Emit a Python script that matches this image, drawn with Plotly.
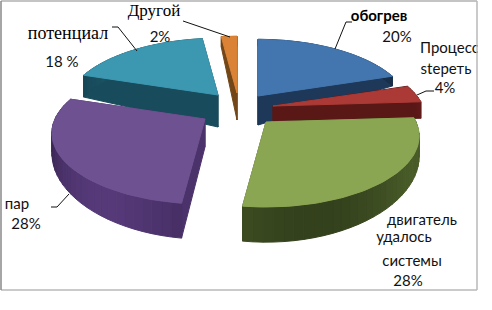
import numpy as np
import plotly.graph_objects as go

categories = ["обогрев", "Процесс стереть", "двигатель удалось системы", "пар", "потенциал", "Другой"]
shares = [20, 4, 28, 28, 18, 2]

top_colors = ["#4375AE", "#AB3A36", "#8BA653", "#6D5191", "#3C97B1", "#DA8235"]
side_colors = ["#1F3B5E", "#5E1A18", "#445626", "#4F3570", "#1A4F60", "#7A4A1A"]
apex_xy = [(258, 96), (273, 106), (266, 122), (205, 119), (218, 95), (237, 93)]
apex_depth = [29, 15, 30, 28, 32, 27]
rim_factor = [0.65, 0.95, 1.0, 1.0, 1.45, 1.0]
draw_order = [5, 4, 0, 1, 3, 2]

RADIUS = 150
TILT = 68
PERSPECTIVE = 0.2
RIM_DEPTH = 18


def project(theta, apex):
    u = np.sin(theta)
    v = -np.cos(theta)
    s = 1 / (1 - PERSPECTIVE * v)
    return apex[0] + RADIUS * u * s, apex[1] + TILT * v * s, s


def shade(hex_color, f):
    r, g, b = (int(hex_color[i:i + 2], 16) for i in (1, 3, 5))
    return f"rgb({min(255, int(r * f))},{min(255, int(g * f))},{min(255, int(b * f))})"


def poly(xs, ys, color):
    return go.Scatter(x=list(xs), y=list(ys), mode="lines", fill="toself", fillcolor=color,
                      line=dict(color=color, width=1), hoverinfo="skip", showlegend=False)


edges = np.cumsum([0] + shares) / sum(shares) * 2 * np.pi
traces = []
for i in draw_order:
    a0, a1 = edges[i], edges[i + 1]
    apex = apex_xy[i]
    th = np.linspace(a0, a1, max(8, int(shares[i] * 1.2)))
    X, Y, S = project(th, apex)
    D = RIM_DEPTH * rim_factor[i] * S ** 3
    ax, ay = apex
    ad = apex_depth[i]
    # two cut faces
    for k in (0, -1):
        traces.append(poly([ax, X[k], X[k], ax, ax], [ay, Y[k], Y[k] + D[k], ay + ad, ay],
                           shade(side_colors[i], 0.95)))
    # rim with soft gradient
    for j in range(len(th) - 1):
        f = 0.92 + 0.16 * np.sin((th[j] - a0) * 3.5)
        traces.append(poly([X[j], X[j + 1], X[j + 1], X[j], X[j]],
                           [Y[j], Y[j + 1], Y[j + 1] + D[j + 1], Y[j] + D[j], Y[j]],
                           shade(side_colors[i], f)))
    # top face
    th2 = np.linspace(a0, a1, 60)
    X2, Y2, _ = project(th2, apex)
    traces.append(poly(np.r_[ax, X2, ax], np.r_[ay, Y2, ay], top_colors[i]))

sans = "Lato, 'Open Sans', sans-serif"
serif = "'Liberation Serif', serif"
labels = [
    ("Другой", 154, 12, serif, 17, "#000", "middle center"),
    ("потенциал", 68, 34, serif, 18, "#000", "middle center"),
    ("2%", 160, 38, sans, 15, "#111", "middle center"),
    ("18 %", 62, 63, sans, 15, "#111", "middle center"),
    ("<b>обогрев</b>", 379, 17, sans, 15, "#000", "middle center"),
    ("20%", 397, 38, sans, 15, "#111", "middle center"),
    ("Процесс", 420, 49, sans, 15, "#111", "middle right"),
    ("stереть", 446, 70, sans, 15, "#111", "middle center"),
    ("4%", 445, 89, sans, 15, "#111", "middle center"),
    ("пар", 17, 205, sans, 15, "#111", "middle center"),
    ("28%", 26, 225, sans, 15, "#111", "middle center"),
    ("двигатель", 422, 221, sans, 15, "#111", "middle center"),
    ("удалось", 404, 238, sans, 15, "#111", "middle center"),
    ("системы", 412, 262, sans, 15, "#111", "middle center"),
    ("28%", 408, 282, sans, 15, "#111", "middle center"),
]
for txt, x, y, fam, size, col, pos in labels:
    traces.append(go.Scatter(x=[x], y=[y], mode="text", text=[txt], textposition=pos,
                             textfont=dict(family=fam, size=size, color=col),
                             hoverinfo="skip", showlegend=False))

leaders = [
    [(183, 21), (230, 37)],
    [(112, 27), (118, 27), (137, 51)],
    [(352, 22), (346, 22), (335, 49)],
    [(434, 91), (426, 91), (417, 95)],
    [(51, 207), (57, 207), (69, 194)],
]
shapes = []
for pts in leaders:
    path = "M " + " L ".join(f"{x},{y}" for x, y in pts)
    shapes.append(dict(type="path", path=path, line=dict(color="#111", width=1), layer="above"))
shapes += [
    dict(type="rect", x0=478, x1=492, y0=0, y1=310, fillcolor="white", line_width=0, layer="above"),
    dict(type="line", x0=1, x1=477, y0=1, y1=1, line=dict(color="#B0B0B0", width=1.5), layer="above"),
    dict(type="line", x0=477, x1=477, y0=1, y1=290, line=dict(color="#B8B8B8", width=1.5), layer="above"),
    dict(type="line", x0=1, x1=477, y0=290, y1=290, line=dict(color="#B8B8B8", width=1.5), layer="above"),
    dict(type="line", x0=1, x1=1, y0=1, y1=290, line=dict(color="#888888", width=1.5), layer="above"),
]

fig = go.Figure(traces)
fig.update_layout(
    width=492, height=310, margin=dict(l=0, r=0, t=0, b=0),
    paper_bgcolor="white", plot_bgcolor="white", showlegend=False, shapes=shapes,
    xaxis=dict(range=[0, 492], visible=False, fixedrange=True),
    yaxis=dict(range=[310, 0], visible=False, fixedrange=True),
)
fig.write_html("out.html", config={"displayModeBar": False},
               post_script="document.body.style.margin='0';document.body.style.overflow='hidden';")
